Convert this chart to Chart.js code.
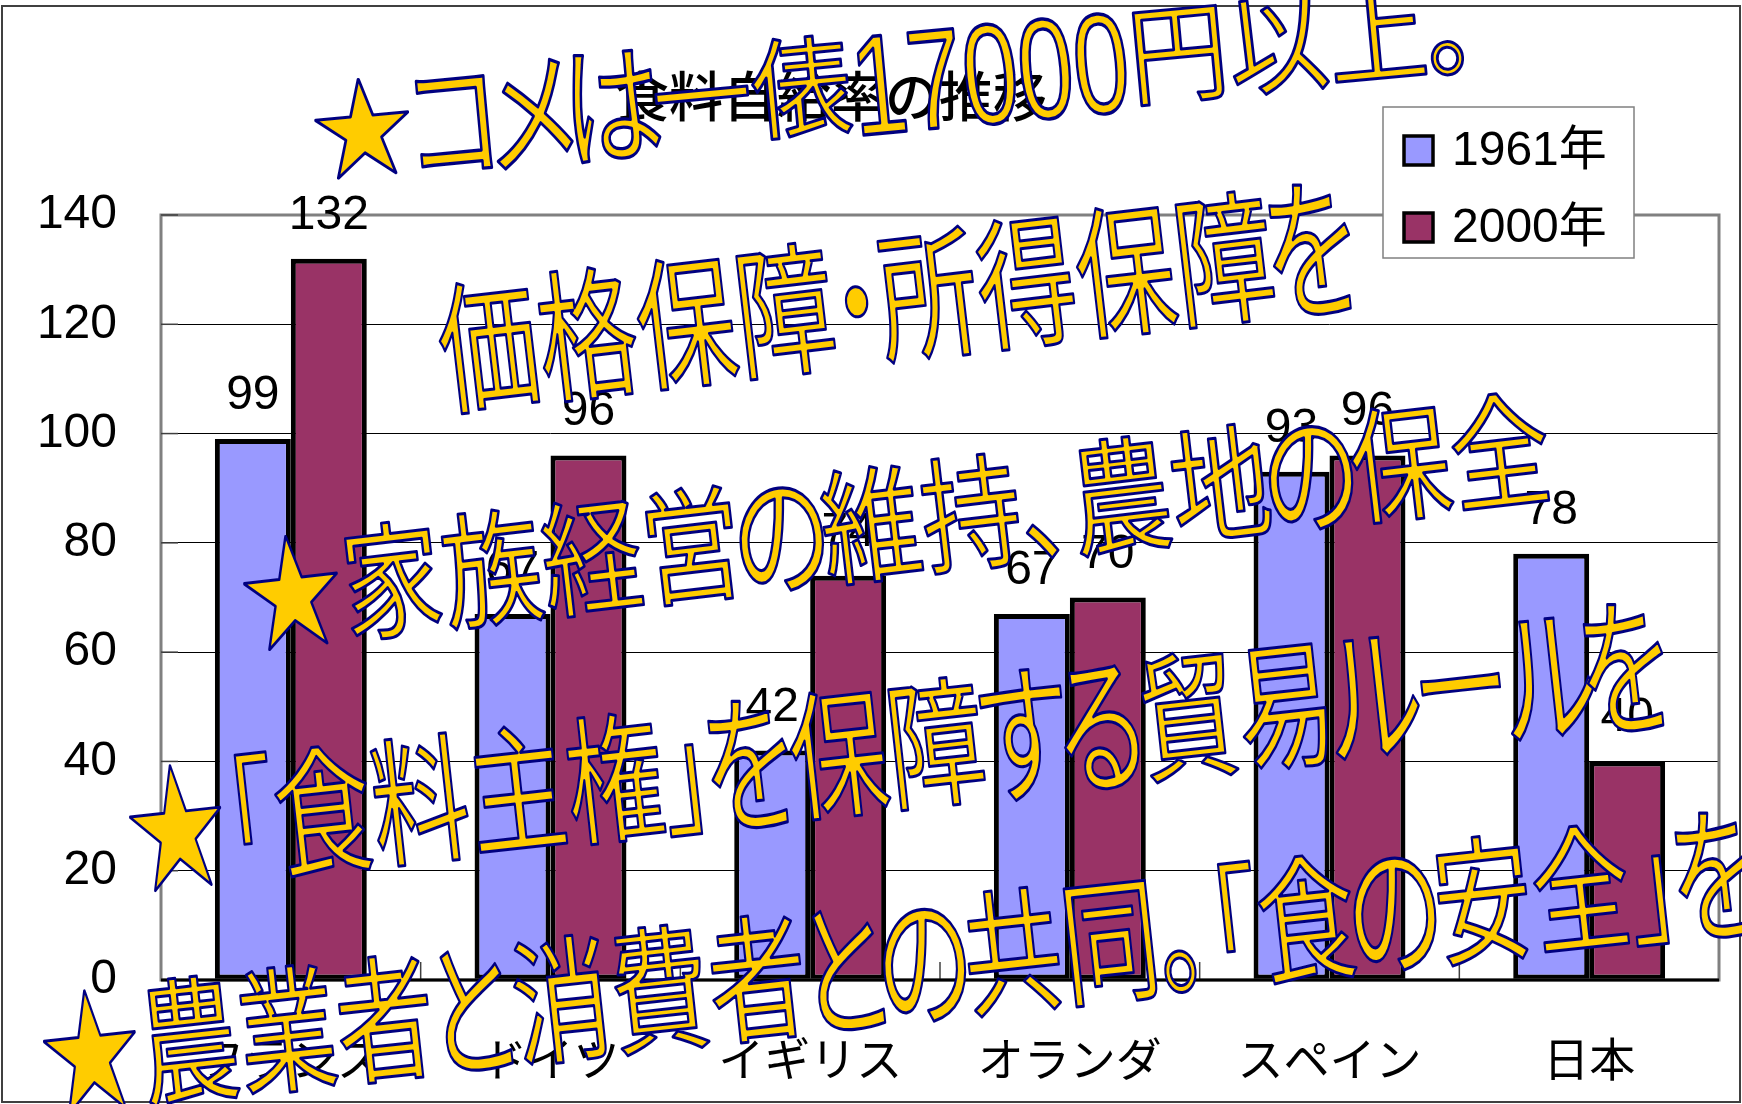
<!DOCTYPE html>
<html>
<head>
<meta charset="utf-8">
<script src="https://cdn.jsdelivr.net/npm/chart.js@4.4.1/dist/chart.umd.min.js"></script>
<style>
  html, body { margin: 0; padding: 0; background: #fff; }
  canvas { display: block; }
</style>
</head>
<body>
<canvas id="myChart" width="1742" height="1104"></canvas>
<script>
// data
const categories = ['フランス', 'ドイツ', 'イギリス', 'オランダ', 'スペイン', '日本'];
const seriesNames = ['1961年', '2000年'];
const rate1961 = [99, 67, 42, 67, 93, 78];
const rate2000 = [132, 96, 74, 70, 96, 40];
const yTickLabels = [0, 20, 40, 60, 80, 100, 120, 140];
const chartTitle = '食料自給率の推移';
const bannerTexts = [
  '★コメは一俵17000円以上。',
  '価格保障・所得保障を',
  '★家族経営の維持、農地の保全',
  '★「食料主権」を保障する貿易ルールを',
  '★農業者と消費者との共同。「食の安全」を'
];

const JP = '"Noto Sans CJK JP"';
const LAT = '"Liberation Sans", "Noto Sans CJK JP"';
const colors = ['#9999FF', '#993366'];

// word-art placement: left x, centre y at left, right end x, glyph height, slope,
// vertical stretch of kana (ks) and digits (ds)
const banners = [
  { text: bannerTexts[0], x0: 313, y0: 132, x1: 1477, h: 96, deg: 5.3, ks: 1.22, ds: 1.3 },
  { text: bannerTexts[1], x0: 439, y0: 351, x1: 1352, h: 125, deg: 6.7, ks: 1.1, ds: 1 },
  { text: bannerTexts[2], x0: 242, y0: 597, x1: 1550, h: 110, deg: 6.6, ks: 1.1, ds: 1 },
  { text: bannerTexts[3], x0: 128, y0: 832, x1: 1665, h: 122, deg: 6.3, ks: 1.1, ds: 1 },
  { text: bannerTexts[4], x0: 42, y0: 1056, x1: 1757, h: 120, deg: 6.2, ks: 1.1, ds: 1 }
];

function seg(ctx, x1, y1, x2, y2) {
  ctx.beginPath(); ctx.moveTo(x1, y1); ctx.lineTo(x2, y2); ctx.stroke();
}

// proportional spacing like a P-gothic font: [advance, shift, kind]
function charBox(ctx, ch, F) {
  if (ch === '「') return [0.5 * F, -0.48 * F, 'p'];
  if ('」、。'.includes(ch)) return [0.5 * F, -0.02 * F, 'p'];
  if (ch === '・') return [0.45 * F, -0.27 * F, 'p'];
  if (/[\u3041-\u30fe]/.test(ch) && ch !== 'ー') return [0.8 * F, -0.1 * F, 'k'];
  if (/[0-9]/.test(ch)) return [ctx.measureText(ch).width, 0, 'd'];
  return [ctx.measureText(ch).width, 0, 'c'];
}

function drawBanner(ctx, b) {
  const ang = b.deg * Math.PI / 180;
  const F = b.h / 0.88;
  ctx.save();
  ctx.font = F + 'px ' + LAT;
  const chars = Array.from(b.text);
  const boxes = chars.map(c => charBox(ctx, c, F));
  const W = boxes.reduce((s, bx) => s + bx[0], 0);
  const L = (b.x1 - b.x0) / Math.cos(ang);
  ctx.translate(b.x0, b.y0);
  ctx.rotate(-ang);
  ctx.scale(L / W, 1);
  ctx.textAlign = 'left';
  ctx.textBaseline = 'alphabetic';
  ctx.strokeStyle = '#000080';
  ctx.lineJoin = 'round';
  ctx.fillStyle = '#FFCC00';
  let x = 0;
  chars.forEach((c, i) => {
    const [adv, shift, kind] = boxes[i];
    const k = kind === 'k' ? b.ks : kind === 'd' ? b.ds : 1;
    ctx.save();
    ctx.scale(1, k);
    ctx.lineWidth = 3 / Math.sqrt(k);
    ctx.fillText(c, x + shift, 0.38 * F);
    ctx.strokeText(c, x + shift, 0.38 * F);
    ctx.restore();
    x += adv;
  });
  ctx.restore();
}

const overlay = {
  id: 'overlay',
  beforeDraw(chart) {
    const ctx = chart.ctx;
    ctx.save();
    ctx.fillStyle = '#fff';
    ctx.fillRect(0, 0, chart.width, chart.height);
    ctx.strokeStyle = '#404040';
    ctx.lineWidth = 2;
    ctx.strokeRect(2, 6, 1738, 1096);
    ctx.restore();
  },
  afterDraw(chart) {
    const ctx = chart.ctx;
    const a = chart.chartArea;
    const ys = chart.scales.y;
    ctx.save();

    // plot frame
    ctx.strokeStyle = '#808080';
    ctx.lineWidth = 3;
    ctx.strokeRect(a.left, a.top, a.right - a.left, a.bottom - a.top);

    // tick marks
    ctx.strokeStyle = '#404040';
    ctx.lineWidth = 1.5;
    yTickLabels.forEach(v => {
      const py = ys.getPixelForValue(v);
      seg(ctx, a.left, py, a.left + 17, py);
    });
    const step = (a.right - a.left) / categories.length;
    for (let i = 1; i < categories.length; i++) {
      seg(ctx, a.left + i * step, a.bottom, a.left + i * step, a.bottom - 18);
    }

    // x axis line
    ctx.strokeStyle = '#000';
    ctx.lineWidth = 3;
    seg(ctx, a.left, a.bottom, a.right, a.bottom);

    // value labels
    ctx.fillStyle = '#000';
    ctx.font = '48px ' + LAT;
    ctx.textAlign = 'center';
    ctx.textBaseline = 'alphabetic';
    chart.data.datasets.forEach((ds, i) => {
      chart.getDatasetMeta(i).data.forEach((bar, j) => {
        ctx.fillText(ds.data[j], bar.x, bar.y - 30);
      });
    });

    // title
    ctx.font = '500 54px ' + JP;
    ctx.textBaseline = 'middle';
    ctx.fillText(chartTitle, 831, 96);

    // legend
    ctx.fillStyle = '#fff';
    ctx.fillRect(1383, 107, 251, 151);
    ctx.strokeStyle = '#808080';
    ctx.lineWidth = 1.5;
    ctx.strokeRect(1383, 107, 251, 151);
    ctx.font = '48px ' + LAT;
    ctx.textAlign = 'left';
    chart.data.datasets.forEach((ds, i) => {
      const cy = 150 + i * 77;
      ctx.fillStyle = ds.backgroundColor;
      ctx.fillRect(1404, cy - 14, 29, 29);
      ctx.strokeStyle = '#000';
      ctx.lineWidth = 3.5;
      ctx.strokeRect(1404, cy - 14, 29, 29);
      ctx.fillStyle = '#000';
      ctx.fillText(ds.label, 1452, cy + 2);
    });

    // word art
    banners.forEach(b => drawBanner(ctx, b));

    ctx.restore();
  }
};

const data = {
  labels: categories,
  datasets: [
    { label: seriesNames[0], data: rate1961, backgroundColor: colors[0],
      borderColor: '#000', borderWidth: 5, borderSkipped: false },
    { label: seriesNames[1], data: rate2000, backgroundColor: colors[1],
      borderColor: '#000', borderWidth: 5, borderSkipped: false }
  ]
};

const config = {
  type: 'bar',
  data,
  options: {
    responsive: false,
    animation: false,
    devicePixelRatio: 1,
    layout: { padding: { top: 215, right: 23, left: 0, bottom: 0 } },
    datasets: { bar: { categoryPercentage: 0.585, barPercentage: 1 } },
    scales: {
      x: {
        grid: { display: false },
        border: { display: false },
        ticks: { color: '#000', font: { family: 'Noto Sans CJK JP', size: 46 },
                 padding: 43, maxRotation: 0, autoSkip: false },
        afterFit: s => { s.height = 124; }
      },
      y: {
        min: yTickLabels[0],
        max: yTickLabels[yTickLabels.length - 1],
        ticks: { stepSize: yTickLabels[1] - yTickLabels[0], color: '#000',
                 font: { family: 'Liberation Sans', size: 48 }, padding: 44 },
        grid: { color: '#000', lineWidth: 1, drawTicks: false },
        border: { display: false },
        afterFit: s => { s.width = 161; }
      }
    },
    plugins: {
      legend: { display: false },
      title: { display: false },
      tooltip: { enabled: false }
    }
  },
  plugins: [overlay]
};

const myChart = new Chart(document.getElementById('myChart'), config);
</script>
</body>
</html>
